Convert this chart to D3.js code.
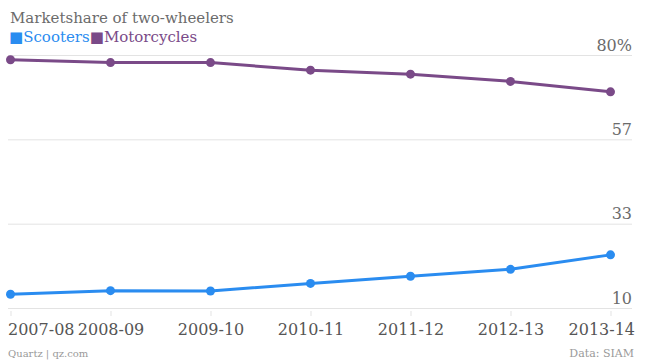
<!DOCTYPE html>
<html><head><meta charset="utf-8">
<script src="https://cdn.jsdelivr.net/npm/d3@7"></script>
<style>body{margin:0;background:#fff}svg{display:block}</style>
</head><body>
<script>
const categories = ["2007-08","2008-09","2009-10","2010-11","2011-12","2012-13","2013-14"];
const scooters = [13.8, 14.8, 14.7, 16.8, 18.8, 20.7, 24.7];
const motorcycles = [78.7, 77.9, 77.9, 75.8, 74.7, 72.7, 69.8];
const yTickValues = [80, 56.667, 33.333, 10];
const yTickLabels = ["80%", "57", "33", "10"];
const seriesNames = ["Scooters", "Motorcycles"];
const seriesColors = ["#2a8cf0", "#7a4a88"];

const W = 645, H = 363;
const svg = d3.select("body").append("svg").attr("width", W).attr("height", H);
const font = "'DejaVu Serif', serif";

const x = d3.scalePoint().domain(categories).range([10.5, 610.5]);
const y = d3.scaleLinear().domain([10, 80]).range([308, 55]);

// gridlines + right labels
const yAxis = d3.axisRight(y).tickValues(yTickValues).tickSize(624)
  .tickFormat((d, i) => yTickLabels[i]);
const gy = svg.append("g").attr("transform", "translate(8,0)").call(yAxis);
gy.select(".domain").remove();
gy.selectAll(".tick line").attr("stroke", "#e3e3e3").attr("stroke-width", 1);
gy.selectAll(".tick text").attr("x", 624).attr("dy", -5).attr("text-anchor", "end")
  .attr("font-family", font).attr("font-size", 16).attr("fill", "#6b6b6b");

// x axis
const xAxis = d3.axisBottom(x).tickSize(5).tickPadding(8);
const gx = svg.append("g").attr("transform", "translate(0,311)").call(xAxis);
gx.select(".domain").remove();
gx.selectAll(".tick line").attr("stroke", "#e3e3e3");
gx.selectAll(".tick text").attr("font-family", font).attr("font-size", 16).attr("fill", "#555")
  .attr("text-anchor", (d, i) => i === 0 ? "start" : (i === categories.length - 1 ? "end" : "middle"))
  .attr("dx", (d, i) => i === 0 ? -3 : (i === categories.length - 1 ? 24 : 0));

// lines
const data = [scooters, motorcycles];
const line = d3.line().x((d, i) => x(categories[i])).y(d => y(d));
data.forEach((vals, s) => {
  svg.append("path").datum(vals).attr("d", line).attr("fill", "none")
    .attr("stroke", seriesColors[s]).attr("stroke-width", 3).attr("stroke-linejoin", "round");
  svg.selectAll(null).data(vals).enter().append("circle")
    .attr("cx", (d, i) => x(categories[i])).attr("cy", d => y(d)).attr("r", 4.5)
    .attr("fill", seriesColors[s]);
});

// title
svg.append("text").attr("x", 10).attr("y", 23).text("Marketshare of two-wheelers")
  .attr("font-family", font).attr("font-size", 15).attr("fill", "#6b6b6b");

// legend
const lg = svg.append("text").attr("x", 9).attr("y", 42).attr("font-family", font).attr("font-size", 15);
seriesNames.forEach((n, i) => {
  lg.append("tspan").attr("fill", seriesColors[i]).text("■");
  lg.append("tspan").attr("fill", seriesColors[i]).text(n);
});

// footer
svg.append("text").attr("x", 8).attr("y", 357).text("Quartz | qz.com")
  .attr("font-family", font).attr("font-size", 10).attr("fill", "#9a9a9a");
svg.append("text").attr("x", 634).attr("y", 357).attr("text-anchor", "end").text("Data: SIAM")
  .attr("font-family", font).attr("font-size", 11).attr("fill", "#9a9a9a");
</script>
</body></html>
